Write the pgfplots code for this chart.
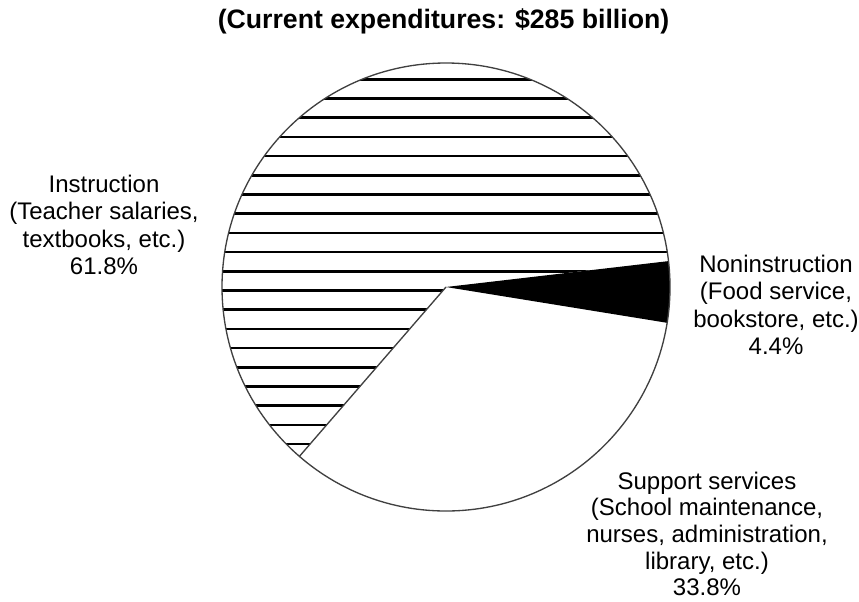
\documentclass[border=0pt]{standalone}
\usepackage{pgfplots}
\pgfplotsset{compat=1.18}
\usepackage{fontspec}
\setmainfont{Liberation Sans}
\begin{document}
\begin{tikzpicture}
% slice values (percent)
\def\vnon{4.4}
\def\vinstr{61.8}
\def\vsup{33.8}
\pgfmathsetmacro{\aA}{-9.2}
\pgfmathsetmacro{\aB}{\aA+3.6*\vnon}
\pgfmathsetmacro{\aC}{\aB+3.6*\vinstr}
\pgfmathsetmacro{\aD}{\aC+3.6*\vsup}
\def\R{168pt}
\begin{axis}[
  hide axis, scale only axis,
  width=644.25pt, height=450.75pt,
  xmin=0, xmax=859, ymin=0, ymax=601, y dir=reverse,
  clip=false]
\pgfplotsextra{
  \path (axis cs:0,0) rectangle (axis cs:859,601);
  \fill[white] (axis cs:446,287) -- ++(\aC:\R) arc[start angle=\aC, end angle=\aD, radius=\R] -- cycle;
  \begin{scope}
    \clip (axis cs:446,287) -- ++(\aB:\R) arc[start angle=\aB, end angle=\aC, radius=\R] -- cycle;
    \foreach \k in {0,...,21} {
      \draw[line width=2pt, black] (axis cs:200,{79.3+19.2*\k}) -- (axis cs:700,{79.3+19.2*\k});
    }
  \end{scope}
  \fill[black] (axis cs:446,287) -- ++(\aA:\R) arc[start angle=\aA, end angle=\aB, radius=\R] -- cycle;
  \draw[black!75, line width=1pt] (axis cs:446,287) circle[radius=\R];
  \draw[black!75, line width=1pt] (axis cs:446,287) -- ++(\aC:\R);
}
\node[overlay, inner sep=0pt, font=\fontsize{20}{24}\selectfont\bfseries] at (axis cs:443.5,21) {(Current expenditures: \$285 billion)};
\node[overlay, inner sep=0pt, align=center, font=\fontsize{18}{20.6}\selectfont] at (axis cs:104,225) {Instruction\\(Teacher salaries,\\textbooks, etc.)\\61.8\%};
\node[overlay, inner sep=0pt, align=center, font=\fontsize{18}{20.6}\selectfont] at (axis cs:776,305) {Noninstruction\\(Food service,\\bookstore, etc.)\\4.4\%};
\node[overlay, inner sep=0pt, align=center, font=\fontsize{18}{20}\selectfont] at (axis cs:707,534) {Support services\\(School maintenance,\\nurses, administration,\\library, etc.)\\33.8\%};
\end{axis}
\end{tikzpicture}
\end{document}
